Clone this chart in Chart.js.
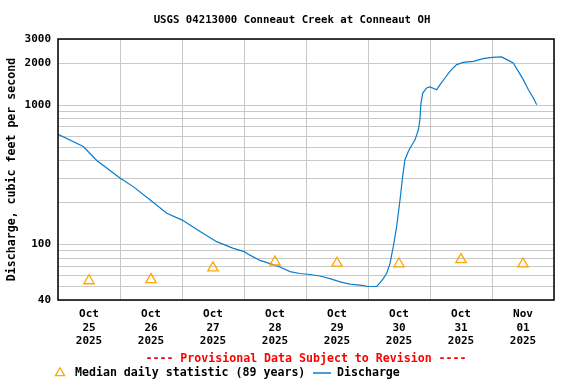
<!DOCTYPE html>
<html>
<head>
<meta charset="utf-8">
<script src="https://cdn.jsdelivr.net/npm/chart.js@4/dist/chart.umd.min.js"></script>
<style>
  body { margin: 0; background: #fff; }
  canvas { display: block; }
</style>
</head>
<body>
<canvas id="hydro" width="576" height="384"></canvas>
<script>
// hours since Oct 25 2025 00:00 and discharge (cfs)
var dischargeHours = [0, 9.8, 15.0, 24.1, 29.1, 35.6, 42.1, 48.1, 55.0, 61.4, 67.9, 72.1, 74.3, 78.2, 82.1,
  85.9, 89.8, 93.7, 97.5, 101.4, 105.3, 109.2, 113.0, 117.6, 120.1, 123.4, 124.6, 125.9, 127.2, 128.5,
  129.8, 131.1, 132.4, 133.4, 134.3, 135.6, 136.3, 138.2, 139.5, 140.1, 140.5, 141.2, 142.7, 144.0,
  146.6, 147.9, 149.8, 151.7, 154.3, 156.9, 160.8, 164.6, 168.1, 171.7, 174.3, 176.2, 178.2, 180.1,
  182.1, 184.0, 185.3];
var dischargeCfs = [620, 507, 402, 300, 261, 210, 168, 150, 124, 105, 94, 89, 84, 77, 73,
  69, 64, 62, 61, 59.5, 57, 54, 52, 51, 50, 50, 53, 57, 62, 73,
  97, 135, 210, 308, 407, 467, 494, 566, 668, 789, 1040, 1227, 1334, 1356,
  1297, 1409, 1574, 1755, 1963, 2039, 2072, 2167, 2215, 2230, 2107, 2018, 1755, 1531,
  1297, 1130, 1011];

// median daily statistic, plotted at noon of each day
var medianHours = [12, 36, 60, 84, 108, 132, 156, 180];
var medianCfs = [55, 56, 68, 75, 73.5, 72.6, 78, 72.6];

var dayMonths = ['Oct', 'Oct', 'Oct', 'Oct', 'Oct', 'Oct', 'Oct', 'Nov'];
var dayNumbers = ['25', '26', '27', '28', '29', '30', '31', '01'];
var yearLabel = '2025';

var yTicks = [40, 50, 60, 70, 80, 90, 100, 200, 300, 400, 500, 600, 700, 800, 900, 1000, 2000, 3000];
var yLabeled = [40, 100, 1000, 2000, 3000];

var blue = '#0a7ccc';
var orange = '#ffa500';
var mono = "'DejaVu Sans Mono', 'Liberation Mono', monospace";

var pts = [];
for (var i = 0; i < dischargeHours.length; i++) {
  pts.push({x: dischargeHours[i], y: dischargeCfs[i]});
}
var med = [];
for (var j = 0; j < medianHours.length; j++) {
  med.push({x: medianHours[j], y: medianCfs[j]});
}

// title, frame, red note and bottom legend
var decorations = {
  id: 'decorations',
  afterDraw: function(chart) {
    var ctx = chart.ctx;
    var a = chart.chartArea;
    ctx.save();
    ctx.strokeStyle = '#000';
    ctx.lineWidth = 1.5;
    ctx.strokeRect(a.left, a.top, a.right - a.left, a.bottom - a.top);

    ctx.textBaseline = 'middle';
    ctx.fillStyle = '#000';
    ctx.font = 'bold 10.7px ' + mono;
    ctx.textAlign = 'center';
    ctx.fillText('USGS 04213000 Conneaut Creek at Conneaut OH', 292, 20);

    ctx.font = 'bold 11.6px ' + mono;
    ctx.fillStyle = '#ff0000';
    ctx.fillText('---- Provisional Data Subject to Revision ----', (a.left + a.right) / 2, 359);

    // legend
    ctx.strokeStyle = orange;
    ctx.lineWidth = 1.3;
    var cx = 60, cy = 373, r = 5.2;
    ctx.beginPath();
    ctx.moveTo(cx, cy - r);
    ctx.lineTo(cx + r * 0.866, cy + r / 2);
    ctx.lineTo(cx - r * 0.866, cy + r / 2);
    ctx.closePath();
    ctx.stroke();

    ctx.textAlign = 'left';
    ctx.fillStyle = '#000';
    ctx.fillText('Median daily statistic (89 years)', 75, 373);

    ctx.strokeStyle = blue;
    ctx.lineWidth = 1.5;
    ctx.beginPath();
    ctx.moveTo(313, 373);
    ctx.lineTo(331, 373);
    ctx.stroke();
    ctx.fillText('Discharge', 337, 373);
    ctx.restore();
  }
};

var ctx = document.getElementById('hydro').getContext('2d');
var chart = new Chart(ctx, {
  type: 'line',
  data: {
    datasets: [
      {
        label: 'Median daily statistic (89 years)',
        data: med,
        showLine: false,
        pointStyle: 'triangle',
        pointRadius: 6,
        pointBorderWidth: 1.3,
        pointBorderColor: orange,
        pointBackgroundColor: 'rgba(0,0,0,0)',
        borderColor: orange
      },
      {
        label: 'Discharge',
        data: pts,
        borderColor: blue,
        borderWidth: 1.2,
        pointRadius: 0,
        tension: 0,
        fill: false
      }
    ]
  },
  options: {
    responsive: false,
    animation: false,
    layout: { padding: { top: 39, left: 0, right: 22, bottom: 0 } },
    plugins: {
      legend: { display: false },
      title: { display: false },
      tooltip: { enabled: false }
    },
    scales: {
      x: {
        type: 'linear',
        min: 0,
        max: 192,
        afterBuildTicks: function(scale) {
          var t = [];
          for (var h = 0; h <= 192; h += 12) t.push({value: h});
          scale.ticks = t;
        },
        afterFit: function(scale) { scale.height = 84; },
        border: { display: false },
        grid: {
          drawTicks: false,
          color: function(c) {
            return c.tick && c.tick.value % 24 === 0 ? '#c8c8c8' : 'rgba(0,0,0,0)';
          }
        },
        ticks: {
          autoSkip: false,
          maxRotation: 0,
          padding: 8,
          color: '#000',
          font: { size: 11, weight: 'bold', family: mono, lineHeight: 1.2 },
          callback: function(v) {
            if (v % 24 !== 12) return '';
            var d = Math.floor(v / 24);
            return [dayMonths[d], dayNumbers[d], yearLabel];
          }
        }
      },
      y: {
        type: 'logarithmic',
        min: 40,
        max: 3000,
        afterBuildTicks: function(scale) {
          scale.ticks = yTicks.map(function(v) { return {value: v}; });
        },
        afterFit: function(scale) { scale.width = 58; },
        border: { display: false },
        grid: { drawTicks: false, color: '#c8c8c8' },
        ticks: {
          autoSkip: false,
          padding: 7,
          color: '#000',
          font: { size: 11, weight: 'bold', family: mono },
          callback: function(v) {
            return yLabeled.indexOf(v) >= 0 ? String(v) : '';
          }
        },
        title: {
          display: true,
          text: 'Discharge, cubic feet per second',
          color: '#000',
          padding: { top: 5, bottom: 0 },
          font: { size: 11.6, weight: 'bold', family: mono, lineHeight: 1.2 }
        }
      }
    }
  },
  plugins: [decorations]
});
</script>
</body>
</html>
